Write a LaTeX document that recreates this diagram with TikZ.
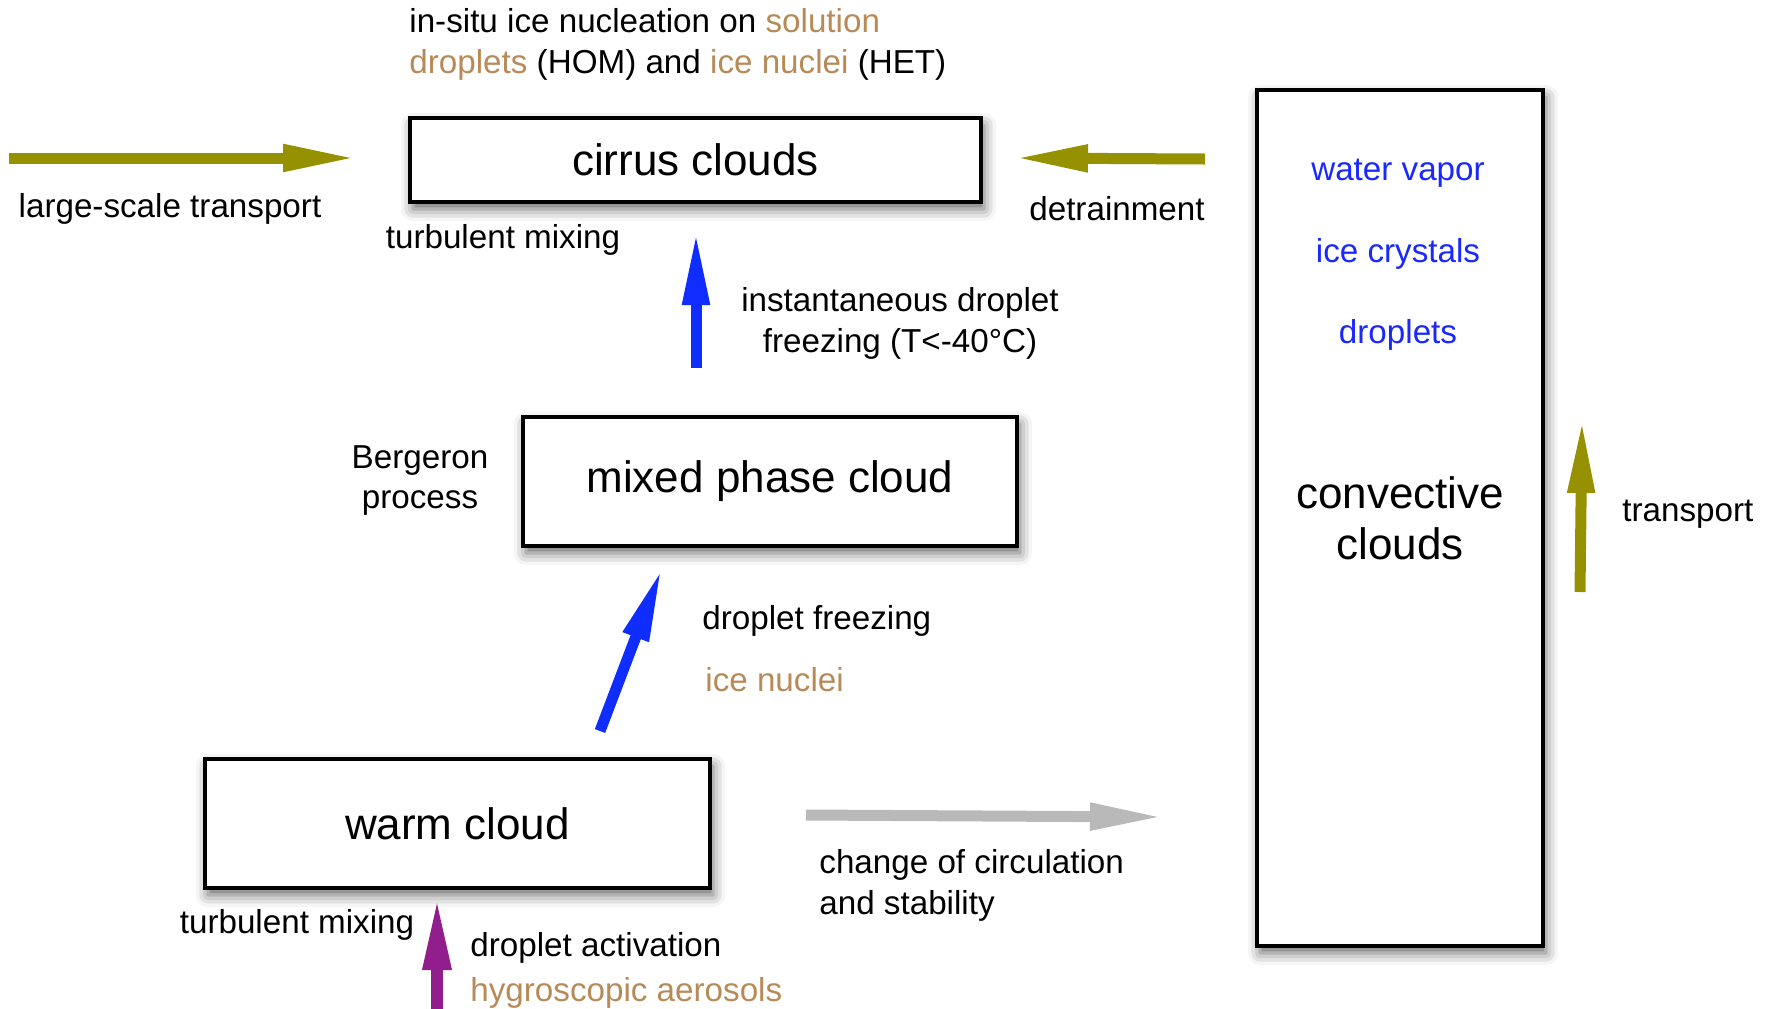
\documentclass[tikz,border=0pt]{standalone}
\usepackage{fontspec}
\setmainfont{Liberation Sans}
\usetikzlibrary{arrows.meta,shadows.blur}
\definecolor{olivearrow}{RGB}{150,145,0}
\definecolor{browntext}{RGB}{184,138,88}
\definecolor{bluetext}{RGB}{25,40,255}
\definecolor{bluearrow}{RGB}{15,45,255}
\definecolor{purplearrow}{RGB}{145,30,140}
\definecolor{grayarrow}{RGB}{185,185,185}
\tikzset{
  cloudbox/.style={draw=black, line width=2pt, fill=white, rectangle, inner sep=0pt,
    font=\fontsize{22}{25.5}\selectfont, align=center,
    blur shadow={shadow xshift=1.5pt, shadow yshift=-3.5pt, shadow blur radius=6pt, shadow opacity=60}},
  lbl/.style={inner sep=0pt, font=\fontsize{16.6}{20.3}\selectfont},
  fat/.style={line width=5.5pt, -{Triangle[length=37pt, width=12.5pt]}},
}
\begin{document}
\begin{tikzpicture}[x=0.5pt, y=-0.5pt]
\useasboundingbox (0,0) rectangle (1772,1008);

% boxes
\node[cloudbox, minimum width=285.5pt, minimum height=42pt] (cirrus) at (695.5,160) {cirrus clouds};
\node[cloudbox, minimum width=247pt, minimum height=64.5pt] (mixed) at (770,481.5) {mixed phase cloud};
\node[cloudbox, minimum width=252.5pt, minimum height=64.5pt] (warm) at (457.5,823.5) {warm cloud};
\node[cloudbox, minimum width=143pt, minimum height=428pt] (conv) at (1400,518) {convective\\clouds};

% labels inside convective box
\node[lbl, text=bluetext] (wv) at (1398,173.5) {water vapor};
\node[lbl, text=bluetext] (ic) at (1398,253.5) {ice crystals};
\node[lbl, text=bluetext] (dr) at (1398,334.5) {droplets};

% arrow end points
\coordinate (lsA) at (9,158);
\coordinate (lsB) at (357,158);
\coordinate (deA) at (1205,159);
\coordinate (deB) at (1014,158);
\coordinate (ifA) at (696,368);
\coordinate (ifB) at (696,231);
\coordinate (dfA) at (600,731);
\coordinate (dfB) at (662,568);
\coordinate (daA) at (437,1012);
\coordinate (daB) at (437,896);
\coordinate (ccA) at (806,815);
\coordinate (ccB) at (1164,817);
\coordinate (trA) at (1580,592);
\coordinate (trB) at (1582,419);

% arrows
\draw[fat, olivearrow] (lsA) -- (lsB);
\draw[fat, olivearrow] (deA) -- (deB);
\draw[fat, bluearrow] (ifA) -- (ifB);
\draw[fat, bluearrow] (dfA) -- (dfB);
\draw[fat, purplearrow, line width=6pt, -{Triangle[length=37pt, width=13pt]}] (daA) -- (daB);
\draw[fat, grayarrow] (ccA) -- (ccB);
\draw[fat, olivearrow] (trA) -- (trB);

% labels
\node[lbl, anchor=west, align=left] (top) at (409,44.5)
  {in-situ ice nucleation on \textcolor{browntext}{solution}\\
   \textcolor{browntext}{droplets} (HOM) and \textcolor{browntext}{ice nuclei} (HET)};
\node[lbl] (lst) at (170,208.5) {large-scale transport};
\node[lbl] (det) at (1117,208.5) {detrainment};
\node[lbl] (tm1) at (503,239.5) {turbulent mixing};
\node[lbl, align=center] (idf) at (900,323.5) {instantaneous droplet\\freezing (T<-40°C)};
\node[lbl, align=center] (berg) at (420,480.5) {Bergeron\\process};
\node[lbl, anchor=west] (dfz) at (702,620.5) {droplet freezing};
\node[lbl, anchor=west, text=browntext] (icn) at (705,679.5) {ice nuclei};
\node[lbl] (tm2) at (297,924.5) {turbulent mixing};
\node[lbl, anchor=west] (dac) at (470,947.5) {droplet activation};
\node[lbl, anchor=west, text=browntext] (hyg) at (470,992.5) {hygroscopic aerosols};
\node[lbl, anchor=west, align=left] (chg) at (819,885.5) {change of circulation\\and stability};
\node[lbl, anchor=west] (trn) at (1622,514.5) {transport};
\end{tikzpicture}
\end{document}
